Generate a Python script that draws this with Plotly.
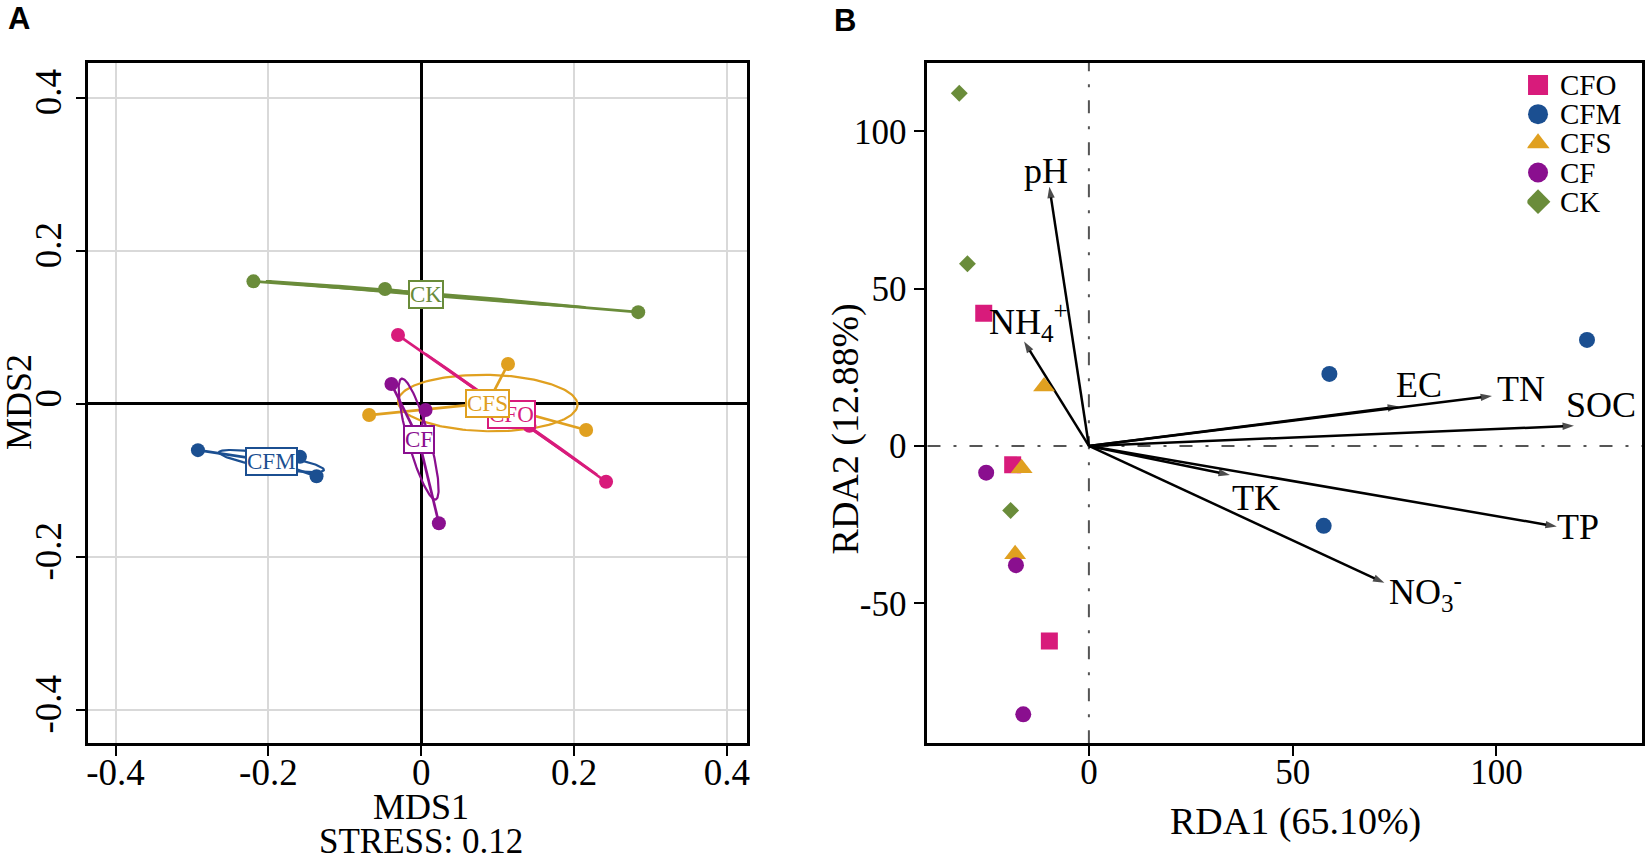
import numpy as np
import plotly.graph_objects as go

# ---------------- data ----------------
groups = ["CFO", "CFM", "CFS", "CF", "CK"]
group_colors = ["#D81B7B", "#1B4F91", "#E0A020", "#8A0F8F", "#6A8C3A"]
rda_symbols = ["square", "circle", "triangle-up", "circle", "diamond"]
rda_sizes = [17, 16, 19, 16, 13]
legend_sizes = [20, 20, 20, 20, 19]

# Panel A - NMDS sample scores (MDS1, MDS2)
mds_CFO_x = [-0.0304, 0.2419, 0.1416]
mds_CFO_y = [0.0898, -0.1020, -0.0289]
mds_CFM_x = [-0.2922, -0.1587, -0.1370]
mds_CFM_y = [-0.0607, -0.0694, -0.0948]
mds_CFS_x = [0.1136, -0.0682, 0.2158]
mds_CFS_y = [0.0519, -0.0148, -0.0344]
mds_CF_x = [-0.0390, 0.0057, 0.0231]
mds_CF_y = [0.0258, -0.0082, -0.1563]
mds_CK_x = [-0.2196, -0.0474, 0.2840]
mds_CK_y = [0.1600, 0.1500, 0.1197]
stress_value = 0.12

# Panel B - RDA sample scores (RDA1, RDA2)
rda_CFO_x = [-25.8, -18.7, -9.7]
rda_CFO_y = [42.2, -6.0, -62.0]
rda_CFM_x = [59.0, 122.2, 57.6]
rda_CFM_y = [22.9, 33.7, -25.4]
rda_CFS_x = [-11.0, -16.5, -18.1]
rda_CFS_y = [18.9, -7.1, -34.4]
rda_CF_x = [-25.2, -17.9, -16.1]
rda_CF_y = [-8.5, -37.9, -85.3]
rda_CK_x = [-31.8, -29.8, -19.2]
rda_CK_y = [112.1, 57.9, -20.5]

# Panel B - environmental vectors (arrow tips and label anchors)
env_names = ["pH", "NH<sub>4</sub><sup>+</sup>", "EC", "TN", "SOC", "TK", "TP", "NO<sub>3</sub><sup>-</sup>"]
env_rda1 = [-9.7, -15.9, 76.1, 98.9, 119.0, 34.6, 114.8, 72.5]
env_rda2 = [82.4, 33.2, 12.5, 15.9, 6.4, -9.2, -25.6, -43.5]
env_label_rda1 = [-10.5, -14.8, 81.1, 105.9, 125.6, 40.9, 120.1, 82.7]
env_label_rda2 = [87.5, 39.3, 19.3, 18.0, 13.0, -16.6, -25.8, -46.5]

# tick labels
a_tickvals = [-0.4, -0.2, 0, 0.2, 0.4]
a_ticktext = ["-0.4", "-0.2", "0", "0.2", "0.4"]
b_xtickvals = [0, 50, 100]
b_xticktext = ["0", "50", "100"]
b_ytickvals = [-50, 0, 50, 100]
b_yticktext = ["-50", "0", "50", "100"]

mds_x = {"CFO": mds_CFO_x, "CFM": mds_CFM_x, "CFS": mds_CFS_x, "CF": mds_CF_x, "CK": mds_CK_x}
mds_y = {"CFO": mds_CFO_y, "CFM": mds_CFM_y, "CFS": mds_CFS_y, "CF": mds_CF_y, "CK": mds_CK_y}
rda_x = {"CFO": rda_CFO_x, "CFM": rda_CFM_x, "CFS": rda_CFS_x, "CF": rda_CF_x, "CK": rda_CK_x}
rda_y = {"CFO": rda_CFO_y, "CFM": rda_CFM_y, "CFS": rda_CFS_y, "CF": rda_CF_y, "CK": rda_CK_y}
col = dict(zip(groups, group_colors))

# ---------------- layout helpers ----------------
W, H = 1650, 861
SERIF = "Liberation Serif"


def pxx(v):
    return v / W


def pyy(v):
    return 1 - v / H


def cov_ellipse(xs, ys, n=160):
    pts = np.column_stack([xs, ys])
    c = pts.mean(axis=0)
    cov = np.cov(pts.T, ddof=0)
    vals, vecs = np.linalg.eigh(cov)
    vals = np.clip(vals, 0, None)
    t = np.linspace(0, 2 * np.pi, n)
    circ = np.vstack([np.cos(t), np.sin(t)])
    e = vecs @ (np.sqrt(vals)[:, None] * circ)
    return c, c[0] + e[0], c[1] + e[1]


fig = go.Figure()
annotations = []

# ---------------- Panel A ----------------
draw_order = ["CK", "CFM", "CFS", "CFO", "CF"]
centroids = {}
for g in draw_order:
    xs, ys = mds_x[g], mds_y[g]
    c, ex, ey = cov_ellipse(xs, ys)
    centroids[g] = c
    sx, sy = [], []
    for xv, yv in zip(xs, ys):
        sx += [c[0], xv, None]
        sy += [c[1], yv, None]
    fig.add_trace(go.Scatter(x=sx, y=sy, mode="lines", line=dict(color=col[g], width=2.7),
                             xaxis="x", yaxis="y", showlegend=False, hoverinfo="skip"))
    fig.add_trace(go.Scatter(x=ex, y=ey, mode="lines", line=dict(color=col[g], width=2.2),
                             xaxis="x", yaxis="y", showlegend=False, hoverinfo="skip"))
    fig.add_trace(go.Scatter(x=xs, y=ys, mode="markers", marker=dict(color=col[g], size=14, opacity=1),
                             xaxis="x", yaxis="y", showlegend=False, name=g))

for g in ["CK", "CFM", "CF", "CFO", "CFS"]:
    c = centroids[g]
    annotations.append(dict(x=c[0], y=c[1], xref="x", yref="y", text=g, showarrow=False,
                            xanchor="center", yanchor="middle",
                            font=dict(family=SERIF, size=23, color=col[g]),
                            bgcolor="white", bordercolor=col[g], borderwidth=2, borderpad=0))

# ---------------- Panel B ----------------
# environmental arrows (drawn from the origin to each vector tip)
for name, tx, ty in zip(env_names, env_rda1, env_rda2):
    fig.add_trace(go.Scatter(x=[0, tx], y=[0, ty], mode="lines+markers",
                             line=dict(color="black", width=2.5),
                             marker=dict(symbol="arrow", size=[0, 12], angleref="previous",
                                         color="black", line=dict(width=0)),
                             xaxis="x2", yaxis="y2", showlegend=False, hoverinfo="skip"))

for g, sym, sz in zip(groups, rda_symbols, rda_sizes):
    fig.add_trace(go.Scatter(x=rda_x[g], y=rda_y[g], mode="markers", name=g,
                             marker=dict(color=col[g], size=sz, symbol=sym, opacity=1, line=dict(width=0)),
                             xaxis="x2", yaxis="y2", showlegend=False))

for name, lx, ly in zip(env_names, env_label_rda1, env_label_rda2):
    annotations.append(dict(x=lx, y=ly, xref="x2", yref="y2", text=name, showarrow=False,
                            xanchor="center", yanchor="middle",
                            font=dict(family=SERIF, size=36, color="black")))

# custom legend (inside panel B, top-right)
legend_rows = list(range(len(groups)))[::-1]
fig.add_trace(go.Scatter(x=[0] * len(groups), y=legend_rows, mode="markers",
                         marker=dict(color=group_colors, size=legend_sizes, symbol=rda_symbols,
                                     opacity=1, line=dict(width=0)),
                         xaxis="x3", yaxis="y3", showlegend=False, hoverinfo="skip"))
for g, r in zip(groups, legend_rows):
    annotations.append(dict(x=20, y=r, xref="x3", yref="y3", text=g, showarrow=False,
                            xanchor="left", yanchor="middle",
                            font=dict(family=SERIF, size=29, color="black")))

# reference dash-dot lines in panel B
dashdot = "13px,13px,3px,13px"
shapes = [
    dict(type="line", xref="x2", yref="y2 domain", x0=0, x1=0, y0=0, y1=1,
         line=dict(color="#555555", width=2, dash=dashdot), layer="below"),
    dict(type="line", xref="x2 domain", yref="y2", x0=0, x1=1, y0=0, y1=0,
         line=dict(color="#555555", width=2, dash=dashdot), layer="below"),
]


def paper_text(xp, yp, text, size, family=SERIF, angle=0):
    return dict(x=pxx(xp), y=pyy(yp), xref="paper", yref="paper", text=text, showarrow=False,
                xanchor="center", yanchor="middle", textangle=angle,
                font=dict(family=family, size=size, color="black"))


annotations += [
    paper_text(17, 18, "<b>A</b>", 31, family="Liberation Sans"),
    paper_text(846, 20, "<b>B</b>", 31, family="Liberation Sans"),
    paper_text(420, 807, "MDS1", 36),
    paper_text(420, 841, "STRESS: %.2f" % stress_value, 35),
    paper_text(17, 402, "MDS2", 36, angle=-90),
    paper_text(1297, 821, "RDA1 (65.10%)", 38),
    paper_text(846, 429, "RDA2 (12.88%)", 38, angle=-90),
]

axis_common = dict(showline=True, mirror=True, linecolor="black", ticks="outside", ticklen=10,
                   tickwidth=2, tickcolor="black", fixedrange=True)

fig.update_layout(
    width=W, height=H, autosize=False,
    margin=dict(l=0, r=0, t=0, b=0),
    paper_bgcolor="white", plot_bgcolor="rgba(0,0,0,0)",
    showlegend=False,
    xaxis=dict(domain=[pxx(86.7), pxx(747.7)], range=[-0.4355, 0.4269], anchor="y",
               tickvals=a_tickvals, ticktext=a_ticktext, linewidth=2.5,
               showgrid=True, gridcolor="#D9D9D9", gridwidth=2,
               zeroline=True, zerolinecolor="black", zerolinewidth=2.5, ticklabelstandoff=-15,
               tickfont=dict(family=SERIF, size=37, color="black"), **axis_common),
    yaxis=dict(domain=[pyy(743.3), pyy(62.7)], range=[-0.4439, 0.4458], anchor="x",
               tickvals=a_tickvals, ticktext=a_ticktext, tickangle=-90, linewidth=2.5,
               showgrid=True, gridcolor="#D9D9D9", gridwidth=2,
               zeroline=True, zerolinecolor="black", zerolinewidth=2.5,
               tickfont=dict(family=SERIF, size=37, color="black"), **axis_common),
    xaxis2=dict(domain=[pxx(928.3), pxx(1645)], range=[-39.6, 135.7], anchor="y2",
                tickvals=b_xtickvals, ticktext=b_xticktext, linewidth=3,
                showgrid=False, zeroline=False, ticklabelstandoff=-14,
                tickfont=dict(family=SERIF, size=35, color="black"), **axis_common),
    yaxis2=dict(domain=[pyy(743.3), pyy(62.7)], range=[-94.5, 121.8], anchor="x2",
                tickvals=b_ytickvals, ticktext=b_yticktext, linewidth=3,
                showgrid=False, zeroline=False, ticklabelstandoff=1,
                tickfont=dict(family=SERIF, size=35, color="black"), **axis_common),
    xaxis3=dict(domain=[pxx(1530), pxx(1645)], range=[-10.7, 104.3], anchor="y3", visible=False,
                fixedrange=True),
    yaxis3=dict(domain=[pyy(216.3), pyy(70.4)], range=[-0.5, 4.5], anchor="x3", visible=False,
                fixedrange=True),
    annotations=annotations,
    shapes=shapes,
)

fig.write_html("out.html", include_plotlyjs=True, full_html=True,
               config={"displayModeBar": False},
               post_script="document.body.style.margin='0';document.body.style.overflow='hidden';")
